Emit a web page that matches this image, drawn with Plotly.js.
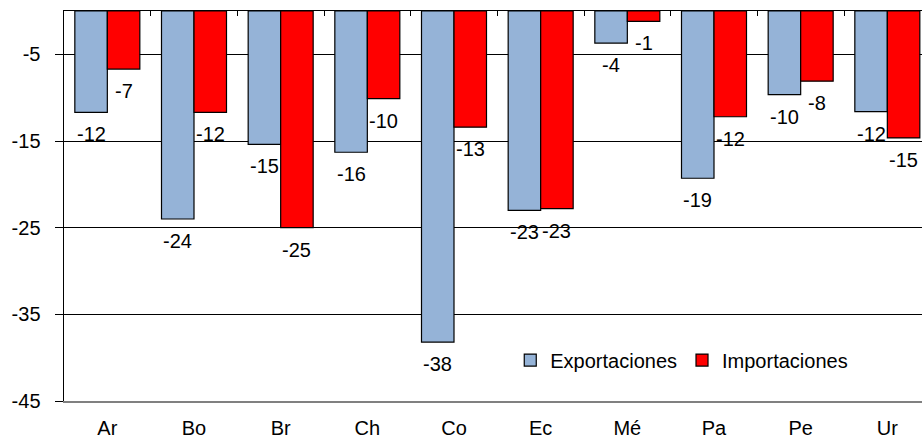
<!DOCTYPE html>
<html>
<head>
<meta charset="utf-8">
<script src="https://cdn.plot.ly/plotly-3.0.1.min.js"></script>
<style>html,body{margin:0;padding:0;background:#fff;}#chart{width:922px;height:438px;}</style>
</head>
<body>
<div id="chart"></div>
<script>
const categories = ["Ar", "Bo", "Br", "Ch", "Co", "Ec", "Mé", "Pa", "Pe", "Ur"];
const exportaciones = [-11.7, -24.0, -15.4, -16.3, -38.2, -23.0, -3.7, -19.3, -9.65, -11.6];
const importaciones = [-6.7, -11.7, -25.0, -10.1, -13.4, -22.8, -1.2, -12.2, -8.1, -14.65];
const yTicks = [-5, -15, -25, -35, -45];

const FONT = "Liberation Sans, Arial, sans-serif";
const idx = categories.map((c, i) => i);
const BARGAP = 0.25;
const half = (1 - BARGAP) / 4;

const traces = [
  {type: "bar", name: "Exportaciones", x: idx, y: exportaciones,
   marker: {color: "#95B3D7", line: {color: "#000", width: 1.2}}, hoverinfo: "skip"},
  {type: "bar", name: "Importaciones", x: idx, y: importaciones,
   marker: {color: "#FF0000", line: {color: "#000", width: 1.2}}, hoverinfo: "skip"},
  {type: "scatter", mode: "markers", x: idx, y: idx.map(() => null), xaxis: "x2", yaxis: "y",
   showlegend: false, hoverinfo: "skip", marker: {opacity: 0}}
];

const annotations = [];
[[exportaciones, -half], [importaciones, half]].forEach(([vals, off]) => {
  vals.forEach((v, i) => {
    annotations.push({x: i + off, y: v, xref: "x", yref: "y", text: String(Math.round(v)),
      showarrow: false, yanchor: "top", xanchor: "center", yshift: -9,
      font: {family: FONT, size: 20, color: "#000"}});
  });
});

const xr = [-0.5, 9.4];
const layout = {
  width: 922, height: 438,
  margin: {l: 63.5, r: 0, t: 10.6, b: 37},
  paper_bgcolor: "#fff", plot_bgcolor: "#fff",
  barmode: "group", bargap: BARGAP, bargroupgap: 0,
  font: {family: FONT, size: 20, color: "#000"},
  showlegend: true,
  legend: {orientation: "h", x: 0.72, y: 0.105, xanchor: "center", yanchor: "middle",
    font: {family: FONT, size: 20, color: "#000"}, bgcolor: "rgba(0,0,0,0)", itemwidth: 30, traceorder: "normal"},
  xaxis: {range: xr, tickmode: "array", tickvals: idx, ticktext: categories,
    showgrid: false, zeroline: false, ticks: "", showline: true, linecolor: "#808080", linewidth: 1.5,
    ticklabelstandoff: 8, tickfont: {family: FONT, size: 20, color: "#000"}},
  xaxis2: {range: xr, overlaying: "x", anchor: "y", side: "top", tickmode: "array",
    tickvals: idx.slice(0, -1).map(i => i + 0.5), showticklabels: false, ticks: "inside", ticklen: 5,
    tickcolor: "#000", tickwidth: 1, showgrid: false, zeroline: false, showline: true, linecolor: "#000", linewidth: 1.5},
  yaxis: {range: [-45, 0], tickmode: "array", tickvals: yTicks, ticktext: yTicks.map(String),
    showgrid: true, gridcolor: "#000", gridwidth: 1, zeroline: false,
    ticks: "outside", ticklen: 8, tickcolor: "#000", tickwidth: 1,
    showline: true, linecolor: "#000", linewidth: 1.5, ticklabelstandoff: 10,
    tickfont: {family: FONT, size: 20, color: "#000"}},
  annotations: annotations
};

Plotly.newPlot("chart", traces, layout, {displayModeBar: false, staticPlot: true});
</script>
</body>
</html>
